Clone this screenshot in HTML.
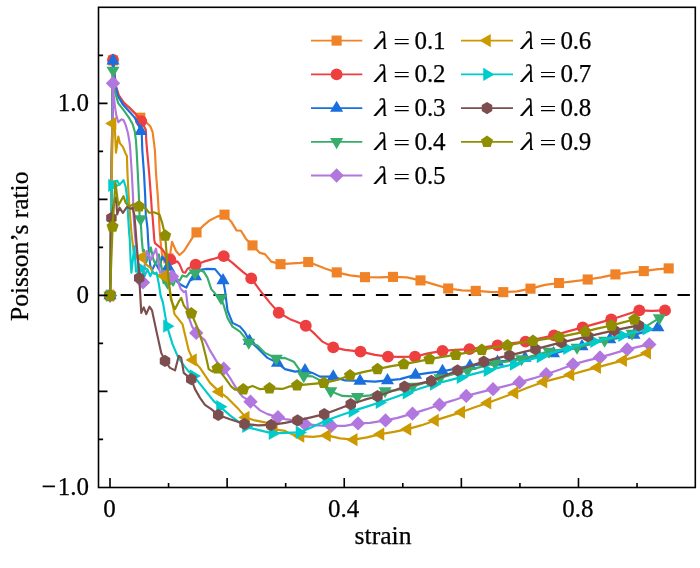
<!DOCTYPE html>
<html lang="en"><head><meta charset="utf-8"><title>Poisson's ratio vs strain</title>
<style>html,body{margin:0;padding:0;background:#fff}svg{display:block}</style></head>
<body>
<svg width="700" height="568" viewBox="0 0 700 568">
<rect width="700" height="568" fill="#fff"/>
<line x1="120.7" y1="295" x2="695.3" y2="295" stroke="#000" stroke-width="2.2" stroke-dasharray="12.4 10.8"/>
<g transform="translate(0 0.4)"><polyline points="110,295.1 113,60 116,88 118.5,96 124,103 130,108 135,113 140.3,117.3 146.9,122.5 150.3,125.9 152.6,131.6 153.8,140.8 154.9,150 156,172.9 157.8,195.8 158.9,214 159.5,227.9 160.6,241.6 162.5,258 165.5,262 168.5,258 170.3,252.9 172,241.4 176,250.6 179.5,254.6 184,250.6 192,238 196.5,232 203,225.5 210,219.8 217,216.2 224.5,214.25 231.25,221.25 236.5,230 241,230.3 246,238.5 252.5,245 260,252.5 265,253.75 271.25,261.25 280.5,263.75 292.5,263 300,262.5 308.25,261.6 317.5,265 325,268 336.75,272 350,275 365,276.75 380,277 393,276.5 407,277 420.5,280 434,284 448.2,288.1 462,290 475.75,290.5 490,291.5 503.25,291.75 517,291 530.5,288.25 545,284.5 559,282.6 573,281 587.7,279.1 601,277 615.4,274 630,272 643.8,270.7 656,269 668.7,268" fill="none" stroke="#F08327" stroke-width="2.15" stroke-linejoin="round" stroke-linecap="round"/>
<rect x="104.95" y="290.05" width="10.1" height="10.1" fill="#F08327"/>
<rect x="107.95" y="54.95" width="10.1" height="10.1" fill="#F08327"/>
<rect x="135.25" y="112.25" width="10.1" height="10.1" fill="#F08327"/>
<rect x="163.45" y="252.95" width="10.1" height="10.1" fill="#F08327"/>
<rect x="191.45" y="226.95" width="10.1" height="10.1" fill="#F08327"/>
<rect x="219.45" y="209.2" width="10.1" height="10.1" fill="#F08327"/>
<rect x="247.45" y="239.95" width="10.1" height="10.1" fill="#F08327"/>
<rect x="275.45" y="258.7" width="10.1" height="10.1" fill="#F08327"/>
<rect x="303.2" y="256.55" width="10.1" height="10.1" fill="#F08327"/>
<rect x="331.7" y="266.95" width="10.1" height="10.1" fill="#F08327"/>
<rect x="359.95" y="271.7" width="10.1" height="10.1" fill="#F08327"/>
<rect x="387.95" y="271.45" width="10.1" height="10.1" fill="#F08327"/>
<rect x="415.45" y="274.95" width="10.1" height="10.1" fill="#F08327"/>
<rect x="443.15" y="283.05" width="10.1" height="10.1" fill="#F08327"/>
<rect x="470.7" y="285.45" width="10.1" height="10.1" fill="#F08327"/>
<rect x="498.2" y="286.7" width="10.1" height="10.1" fill="#F08327"/>
<rect x="525.45" y="283.2" width="10.1" height="10.1" fill="#F08327"/>
<rect x="553.95" y="277.55" width="10.1" height="10.1" fill="#F08327"/>
<rect x="582.65" y="274.05" width="10.1" height="10.1" fill="#F08327"/>
<rect x="610.35" y="268.95" width="10.1" height="10.1" fill="#F08327"/>
<rect x="638.75" y="265.65" width="10.1" height="10.1" fill="#F08327"/>
<rect x="663.65" y="262.95" width="10.1" height="10.1" fill="#F08327"/>
</g>
<g transform="translate(0 0.4)"><polyline points="110,295.1 113,59.5 116,86 118.9,95 124,102.4 129.7,107.6 135.5,113.3 141.2,120.7 145.8,129.3 146.3,140.8 147.1,150 149.2,172.9 150.9,195.8 152,211.8 152.6,216.4 154.3,239.3 154.9,242.7 162.3,248.9 165.8,254 170.3,259.2 174.3,262.6 177.2,260.9 179.5,263.7 182.9,271.8 185.2,272.3 187.5,268.3 190.9,266.6 195.6,264.4 203.75,261.25 212.5,258.75 218,257 223.75,255.75 232.5,262.5 242.5,271.25 251.25,278 260,290 270,302.5 278.75,312.3 290,318.75 296,321 305.75,325.3 315,333.75 322.5,341.25 333.25,347 345,349.5 360.5,351.25 375,354.5 388,356.25 400,356.5 415,356.25 428,353 442.5,350.5 456,349.5 469.5,348.75 483,347 497.5,345 511,343 525.5,341.25 540,338 554,335 568,331 582.7,327 597,323 611.2,319 625,314.5 639.3,310 652,310.5 665,310" fill="none" stroke="#EE3F40" stroke-width="2.15" stroke-linejoin="round" stroke-linecap="round"/>
<circle cx="110" cy="295.1" r="5.95" fill="#EE3F40"/>
<circle cx="113" cy="59.5" r="5.95" fill="#EE3F40"/>
<circle cx="141.2" cy="120.7" r="5.95" fill="#EE3F40"/>
<circle cx="170.3" cy="259.2" r="5.95" fill="#EE3F40"/>
<circle cx="195.6" cy="264.4" r="5.95" fill="#EE3F40"/>
<circle cx="223.75" cy="255.75" r="5.95" fill="#EE3F40"/>
<circle cx="251.25" cy="278" r="5.95" fill="#EE3F40"/>
<circle cx="278.75" cy="312.3" r="5.95" fill="#EE3F40"/>
<circle cx="305.75" cy="325.3" r="5.95" fill="#EE3F40"/>
<circle cx="333.25" cy="347" r="5.95" fill="#EE3F40"/>
<circle cx="360.5" cy="351.25" r="5.95" fill="#EE3F40"/>
<circle cx="388" cy="356.25" r="5.95" fill="#EE3F40"/>
<circle cx="415" cy="356.25" r="5.95" fill="#EE3F40"/>
<circle cx="442.5" cy="350.5" r="5.95" fill="#EE3F40"/>
<circle cx="469.5" cy="348.75" r="5.95" fill="#EE3F40"/>
<circle cx="497.5" cy="345" r="5.95" fill="#EE3F40"/>
<circle cx="525.5" cy="341.25" r="5.95" fill="#EE3F40"/>
<circle cx="554" cy="335" r="5.95" fill="#EE3F40"/>
<circle cx="582.7" cy="327" r="5.95" fill="#EE3F40"/>
<circle cx="611.2" cy="319" r="5.95" fill="#EE3F40"/>
<circle cx="639.3" cy="310" r="5.95" fill="#EE3F40"/>
<circle cx="665" cy="310" r="5.95" fill="#EE3F40"/>
</g>
<g transform="translate(0 0.4)"><polyline points="110,295.1 113,60.3 115.5,86 117.7,95 122.9,104.2 129.7,111.6 134.3,116.7 138,123 140.8,130.9 141.8,134.5 142.3,150 144,172.9 145.2,195.8 145.8,214 147.5,227.9 148,238 149.2,255.2 150.3,265.5 152,270 155.5,262.6 158.9,268.9 162.3,256.3 165.8,260.9 168,266.6 173.8,271.2 177.2,281.5 181.8,284.9 186.4,287.2 189.8,280.3 194.4,278 195.5,276 200,269.5 207,268.5 215,268.75 221.25,276.25 223,280 225,290 227.5,310 232.5,322.5 240,326.25 245,332 249.5,340.5 257.5,347.5 267.5,357.5 277.5,362.5 285,368.75 295,371.25 305,370 312.5,372.5 320,376.25 333.25,376.25 345,380 360,380.5 375,381.25 387.5,380 400,378.75 415.5,374.5 429,372.5 442.5,370.8 456,368.2 470,365.5 484,363.5 497.5,361.5 511,359.5 525,357.5 539,355.3 553.5,353 568,349.5 582,346 596,342 609.8,339 622,337 634,334.5 646,331 657.9,327" fill="none" stroke="#1A6FDF" stroke-width="2.15" stroke-linejoin="round" stroke-linecap="round"/>
<polygon points="110,287.63 116.55,298.83 103.45,298.83" fill="#1A6FDF"/>
<polygon points="113,52.83 119.55,64.03 106.45,64.03" fill="#1A6FDF"/>
<polygon points="140.8,123.43 147.35,134.63 134.25,134.63" fill="#1A6FDF"/>
<polygon points="168,259.13 174.55,270.33 161.45,270.33" fill="#1A6FDF"/>
<polygon points="195.5,268.53 202.05,279.73 188.95,279.73" fill="#1A6FDF"/>
<polygon points="223,272.53 229.55,283.73 216.45,283.73" fill="#1A6FDF"/>
<polygon points="249.5,333.03 256.05,344.23 242.95,344.23" fill="#1A6FDF"/>
<polygon points="277.5,355.03 284.05,366.23 270.95,366.23" fill="#1A6FDF"/>
<polygon points="305,362.53 311.55,373.73 298.45,373.73" fill="#1A6FDF"/>
<polygon points="333.25,368.78 339.8,379.98 326.7,379.98" fill="#1A6FDF"/>
<polygon points="360,373.03 366.55,384.23 353.45,384.23" fill="#1A6FDF"/>
<polygon points="387.5,372.53 394.05,383.73 380.95,383.73" fill="#1A6FDF"/>
<polygon points="415.5,367.03 422.05,378.23 408.95,378.23" fill="#1A6FDF"/>
<polygon points="442.5,363.33 449.05,374.53 435.95,374.53" fill="#1A6FDF"/>
<polygon points="470,358.03 476.55,369.23 463.45,369.23" fill="#1A6FDF"/>
<polygon points="497.5,354.03 504.05,365.23 490.95,365.23" fill="#1A6FDF"/>
<polygon points="525,350.03 531.55,361.23 518.45,361.23" fill="#1A6FDF"/>
<polygon points="553.5,345.53 560.05,356.73 546.95,356.73" fill="#1A6FDF"/>
<polygon points="582,338.53 588.55,349.73 575.45,349.73" fill="#1A6FDF"/>
<polygon points="609.8,331.53 616.35,342.73 603.25,342.73" fill="#1A6FDF"/>
<polygon points="634,327.03 640.55,338.23 627.45,338.23" fill="#1A6FDF"/>
<polygon points="657.9,319.53 664.45,330.73 651.35,330.73" fill="#1A6FDF"/>
</g>
<g transform="translate(0 0.4)"><polyline points="110,295.1 113,70 114.5,90 116,95 118.3,103 122.9,108.7 128.6,116.7 132.6,123.6 134.9,131.6 136,140.8 136.6,150 137.8,172.9 138.9,195.8 139.5,214 140.6,218.7 141.8,239.3 142.9,250.8 144,249.4 146.3,262 150.9,247.2 153.2,258.6 155.5,264.3 158.9,254 161.8,267.7 163.5,282.6 165.8,281.5 168,286 170.9,282 173.2,284.9 176,278 179.5,280.3 182.4,275.2 186.4,276.3 189.8,272.3 195,272.5 200,270 203.75,271.25 207.5,277.5 211.25,288.75 216.25,294.5 221,297.5 223.75,305 227.5,317.5 232.5,326.25 240,331.25 248.75,342 257.5,345 265,352.5 276.25,358 285,357.5 293.75,361.25 303.75,375.5 312.5,376 322.5,381.25 330.75,390.5 335,392.5 342.5,395.5 357.5,396.25 370,395 385,390.5 395,390 412.5,386 426,382 440,377.5 454,373.5 467.5,370 481,366.5 495,363 508,361 521.5,358.5 535,355 549,351 563,349 577,347 591,343.5 604.6,340 618,336.5 632,333 646,326 659.3,317.7" fill="none" stroke="#37AD6B" stroke-width="2.15" stroke-linejoin="round" stroke-linecap="round"/>
<polygon points="110,302.57 116.55,291.37 103.45,291.37" fill="#37AD6B"/>
<polygon points="113,77.47 119.55,66.27 106.45,66.27" fill="#37AD6B"/>
<polygon points="140.6,226.17 147.15,214.97 134.05,214.97" fill="#37AD6B"/>
<polygon points="167.5,289.47 174.05,278.27 160.95,278.27" fill="#37AD6B"/>
<polygon points="195,279.97 201.55,268.77 188.45,268.77" fill="#37AD6B"/>
<polygon points="221,304.97 227.55,293.77 214.45,293.77" fill="#37AD6B"/>
<polygon points="248.75,349.47 255.3,338.27 242.2,338.27" fill="#37AD6B"/>
<polygon points="276.25,365.47 282.8,354.27 269.7,354.27" fill="#37AD6B"/>
<polygon points="303.75,382.97 310.3,371.77 297.2,371.77" fill="#37AD6B"/>
<polygon points="330.75,397.97 337.3,386.77 324.2,386.77" fill="#37AD6B"/>
<polygon points="357.5,403.72 364.05,392.52 350.95,392.52" fill="#37AD6B"/>
<polygon points="385,397.97 391.55,386.77 378.45,386.77" fill="#37AD6B"/>
<polygon points="412.5,393.47 419.05,382.27 405.95,382.27" fill="#37AD6B"/>
<polygon points="440,384.97 446.55,373.77 433.45,373.77" fill="#37AD6B"/>
<polygon points="467.5,377.47 474.05,366.27 460.95,366.27" fill="#37AD6B"/>
<polygon points="495,370.47 501.55,359.27 488.45,359.27" fill="#37AD6B"/>
<polygon points="521.5,365.97 528.05,354.77 514.95,354.77" fill="#37AD6B"/>
<polygon points="549,358.47 555.55,347.27 542.45,347.27" fill="#37AD6B"/>
<polygon points="577,354.47 583.55,343.27 570.45,343.27" fill="#37AD6B"/>
<polygon points="604.6,347.47 611.15,336.27 598.05,336.27" fill="#37AD6B"/>
<polygon points="632,340.47 638.55,329.27 625.45,329.27" fill="#37AD6B"/>
<polygon points="659.3,325.17 665.85,313.97 652.75,313.97" fill="#37AD6B"/>
</g>
<g transform="translate(0 0.4)"><polyline points="110,295.1 113,82.8 113.8,95 115,106.4 116.2,114.5 118.3,121.9 121.2,119 123.5,119.6 125.7,124.7 128,132.8 129.7,143 130.3,150 131.8,172.9 133,195.8 133.5,214 135,235 137,255 139.5,272 143,282 145,262 146.9,250.6 150.9,259.7 156,248.3 160,272.3 165,271 172,276 177.2,279.2 180.6,288.3 184,291.8 185.8,290.6 187,300 189,317.5 192,326 196.25,332.5 205,340 210,350 217.5,362.5 223.75,368.25 230,377.5 237.5,390 242.5,396.25 250.5,401.25 260,410 267.5,413.75 278,416.75 285,418.75 295,420 305,423.75 317.5,425 331.25,425.5 345,425.5 358,423 370,422.5 385.5,420 397.5,417.5 412.5,413.25 426,409 439.5,404.25 453,400 466.25,395.5 480,392 493,388.75 506,385.5 519.5,382 533,378 546.25,373.75 560,369 573,364 586,360.5 600,357 614,353 627.2,349 638,346.5 649.3,344" fill="none" stroke="#B177DE" stroke-width="2.15" stroke-linejoin="round" stroke-linecap="round"/>
<polygon points="117.2,295.1 110,302.3 102.8,295.1 110,287.9" fill="#B177DE"/>
<polygon points="120.2,82.8 113,90 105.8,82.8 113,75.6" fill="#B177DE"/>
<polygon points="150.2,282 143,289.2 135.8,282 143,274.8" fill="#B177DE"/>
<polygon points="179.2,276 172,283.2 164.8,276 172,268.8" fill="#B177DE"/>
<polygon points="203.45,332.5 196.25,339.7 189.05,332.5 196.25,325.3" fill="#B177DE"/>
<polygon points="230.95,368.25 223.75,375.45 216.55,368.25 223.75,361.05" fill="#B177DE"/>
<polygon points="257.7,401.25 250.5,408.45 243.3,401.25 250.5,394.05" fill="#B177DE"/>
<polygon points="285.2,416.75 278,423.95 270.8,416.75 278,409.55" fill="#B177DE"/>
<polygon points="312.2,423.75 305,430.95 297.8,423.75 305,416.55" fill="#B177DE"/>
<polygon points="338.45,425.5 331.25,432.7 324.05,425.5 331.25,418.3" fill="#B177DE"/>
<polygon points="365.2,423 358,430.2 350.8,423 358,415.8" fill="#B177DE"/>
<polygon points="392.7,420 385.5,427.2 378.3,420 385.5,412.8" fill="#B177DE"/>
<polygon points="419.7,413.25 412.5,420.45 405.3,413.25 412.5,406.05" fill="#B177DE"/>
<polygon points="446.7,404.25 439.5,411.45 432.3,404.25 439.5,397.05" fill="#B177DE"/>
<polygon points="473.45,395.5 466.25,402.7 459.05,395.5 466.25,388.3" fill="#B177DE"/>
<polygon points="500.2,388.75 493,395.95 485.8,388.75 493,381.55" fill="#B177DE"/>
<polygon points="526.7,382 519.5,389.2 512.3,382 519.5,374.8" fill="#B177DE"/>
<polygon points="553.45,373.75 546.25,380.95 539.05,373.75 546.25,366.55" fill="#B177DE"/>
<polygon points="580.2,364 573,371.2 565.8,364 573,356.8" fill="#B177DE"/>
<polygon points="607.2,357 600,364.2 592.8,357 600,349.8" fill="#B177DE"/>
<polygon points="634.4,349 627.2,356.2 620,349 627.2,341.8" fill="#B177DE"/>
<polygon points="656.5,344 649.3,351.2 642.1,344 649.3,336.8" fill="#B177DE"/>
</g>
<g transform="translate(0 0.4)"><polyline points="110,295.1 112.6,123 114.9,129.3 116,152.2 118.3,136.2 120,143 122.9,146.5 125.7,153.4 126.9,155.7 127.5,172.9 128.6,195.8 130,214 131.5,233.6 133.5,250 136,256.5 141.7,256.9 146.3,264.3 150.9,267.7 153.2,272.3 158,274.5 164,275.8 168,281.5 170,290 171.25,297.5 174.5,313.75 182.5,323.75 188.75,350 193,359.5 200,367.5 210,382.5 219.25,391.25 227.5,397.5 237.5,407.5 245.75,417 255,420 265,422 273.9,428.8 285,430.5 292,434 300.5,435.75 313,436.5 327,435 340,438 353.75,439.25 367,437 380.5,433.75 394,431.5 407.5,428.75 421,425 435,420 448,416 461.25,411.75 474,407 487.5,402.5 501,397.5 514.5,392.5 528,387 543.5,381.5 557,378 570.5,374.3 584,370.5 597.2,367 610,363.5 623.2,360 635,356.5 647.3,352.6" fill="none" stroke="#CC9900" stroke-width="2.15" stroke-linejoin="round" stroke-linecap="round"/>
<polygon points="102.53,295.1 113.73,288.55 113.73,301.65" fill="#CC9900"/>
<polygon points="105.13,123 116.33,116.45 116.33,129.55" fill="#CC9900"/>
<polygon points="134.23,256.9 145.43,250.35 145.43,263.45" fill="#CC9900"/>
<polygon points="156.53,275.8 167.73,269.25 167.73,282.35" fill="#CC9900"/>
<polygon points="185.53,359.5 196.73,352.95 196.73,366.05" fill="#CC9900"/>
<polygon points="211.78,391.25 222.98,384.7 222.98,397.8" fill="#CC9900"/>
<polygon points="238.28,417 249.48,410.45 249.48,423.55" fill="#CC9900"/>
<polygon points="266.43,428.8 277.63,422.25 277.63,435.35" fill="#CC9900"/>
<polygon points="293.03,435.75 304.23,429.2 304.23,442.3" fill="#CC9900"/>
<polygon points="319.53,435 330.73,428.45 330.73,441.55" fill="#CC9900"/>
<polygon points="346.28,439.25 357.48,432.7 357.48,445.8" fill="#CC9900"/>
<polygon points="373.03,433.75 384.23,427.2 384.23,440.3" fill="#CC9900"/>
<polygon points="400.03,428.75 411.23,422.2 411.23,435.3" fill="#CC9900"/>
<polygon points="427.53,420 438.73,413.45 438.73,426.55" fill="#CC9900"/>
<polygon points="453.78,411.75 464.98,405.2 464.98,418.3" fill="#CC9900"/>
<polygon points="480.03,402.5 491.23,395.95 491.23,409.05" fill="#CC9900"/>
<polygon points="507.03,392.5 518.23,385.95 518.23,399.05" fill="#CC9900"/>
<polygon points="536.03,381.5 547.23,374.95 547.23,388.05" fill="#CC9900"/>
<polygon points="563.03,374.3 574.23,367.75 574.23,380.85" fill="#CC9900"/>
<polygon points="589.73,367 600.93,360.45 600.93,373.55" fill="#CC9900"/>
<polygon points="615.73,360 626.93,353.45 626.93,366.55" fill="#CC9900"/>
<polygon points="639.83,352.6 651.03,346.05 651.03,359.15" fill="#CC9900"/>
</g>
<g transform="translate(0 0.4)"><polyline points="110,295.1 112,185 113.7,180.9 117.2,180.3 119.5,184.3 123.5,179.7 125.7,186.6 126.9,195.8 128,214 129.2,233.6 129.7,238 130.7,262.2 131.4,272.3 134.3,246 136,271.2 138.5,270 141.2,265.5 142.9,272.3 144.6,275.8 147.5,268.9 150.3,275.8 152.6,271.2 154.3,273.5 156.6,272.3 158.9,283.8 160.6,295.2 162.9,302 167,325.75 172.5,343.75 177.5,355.5 183,364 188.6,371 193.5,375.5 198,381 203,387.3 213.5,400.5 220,406.25 230,415 240,422.5 250,427.5 260,430 272.5,433 285,432.5 299.5,432 310,427.5 326.25,420 340,415 352.5,410.75 366,406.5 379.5,402 393,397.5 406.5,392.5 420,388 433.75,383.75 447,380.5 460.5,377 474,373.5 487.5,370 500,367 513.75,363.75 527,360 540.5,356.25 554,352 567,348 581,344.5 594,341 608,338 622,335 634,332 646.3,328.5" fill="none" stroke="#00CBCC" stroke-width="2.15" stroke-linejoin="round" stroke-linecap="round"/>
<polygon points="117.47,295.1 106.27,288.55 106.27,301.65" fill="#00CBCC"/>
<polygon points="119.47,185 108.27,178.45 108.27,191.55" fill="#00CBCC"/>
<polygon points="147.97,268 136.77,261.45 136.77,274.55" fill="#00CBCC"/>
<polygon points="174.47,325.75 163.27,319.2 163.27,332.3" fill="#00CBCC"/>
<polygon points="200.97,375.5 189.77,368.95 189.77,382.05" fill="#00CBCC"/>
<polygon points="227.47,406.25 216.27,399.7 216.27,412.8" fill="#00CBCC"/>
<polygon points="253.47,426 242.27,419.45 242.27,432.55" fill="#00CBCC"/>
<polygon points="279.97,433 268.77,426.45 268.77,439.55" fill="#00CBCC"/>
<polygon points="306.97,432 295.77,425.45 295.77,438.55" fill="#00CBCC"/>
<polygon points="333.72,420 322.52,413.45 322.52,426.55" fill="#00CBCC"/>
<polygon points="359.97,410.75 348.77,404.2 348.77,417.3" fill="#00CBCC"/>
<polygon points="386.97,402 375.77,395.45 375.77,408.55" fill="#00CBCC"/>
<polygon points="413.97,392.5 402.77,385.95 402.77,399.05" fill="#00CBCC"/>
<polygon points="441.22,383.75 430.02,377.2 430.02,390.3" fill="#00CBCC"/>
<polygon points="467.97,377 456.77,370.45 456.77,383.55" fill="#00CBCC"/>
<polygon points="494.97,370 483.77,363.45 483.77,376.55" fill="#00CBCC"/>
<polygon points="521.22,363.75 510.02,357.2 510.02,370.3" fill="#00CBCC"/>
<polygon points="547.97,356.25 536.77,349.7 536.77,362.8" fill="#00CBCC"/>
<polygon points="574.47,348 563.27,341.45 563.27,354.55" fill="#00CBCC"/>
<polygon points="601.47,341 590.27,334.45 590.27,347.55" fill="#00CBCC"/>
<polygon points="629.47,335 618.27,328.45 618.27,341.55" fill="#00CBCC"/>
<polygon points="653.77,328.5 642.57,321.95 642.57,335.05" fill="#00CBCC"/>
</g>
<g transform="translate(0 0.4)"><polyline points="110,295.1 111.4,217.6 113,208 114.9,198 116,197 117.2,214 119.5,207.2 122.9,212.4 126.9,206.6 130.9,208.4 132.6,207.2 134.3,214 135.5,227.9 137.2,250.8 138.9,269 139.2,277.5 140,290 141.25,312.5 143.75,307 146.25,313.75 149.5,306.25 152,310 156.25,330 161.25,352.5 165,360.5 170,367.5 175,370 178.75,355.5 181.25,357.5 183.75,372.5 191.25,378.75 195,388.75 200,397.5 205,404.5 211.25,408.75 218.25,414.5 230,418.75 244.5,423.5 258,425 271.25,424.5 285,422.5 297.5,420 311,417 324.25,413.75 337,409 350.75,403.75 364,399.5 377.5,395.75 391,391 404.5,386.25 418,383.5 431.25,380.5 444,375.5 457.5,370 470,365.5 483.75,361.25 496,358 509.5,355 522,352 535.5,348.75 548,345.5 561.5,342 575,339 588,336 601,333 614.3,330 626,327.5 638.7,325" fill="none" stroke="#7D4E4E" stroke-width="2.15" stroke-linejoin="round" stroke-linecap="round"/>
<polygon points="110,289.05 115.24,292.08 115.24,298.12 110,301.15 104.76,298.12 104.76,292.08" fill="#7D4E4E"/>
<polygon points="111.4,211.55 116.64,214.57 116.64,220.62 111.4,223.65 106.16,220.62 106.16,214.57" fill="#7D4E4E"/>
<polygon points="139.2,271.45 144.44,274.48 144.44,280.52 139.2,283.55 133.96,280.52 133.96,274.48" fill="#7D4E4E"/>
<polygon points="165,354.45 170.24,357.48 170.24,363.52 165,366.55 159.76,363.52 159.76,357.48" fill="#7D4E4E"/>
<polygon points="191.25,372.7 196.49,375.73 196.49,381.77 191.25,384.8 186.01,381.77 186.01,375.73" fill="#7D4E4E"/>
<polygon points="218.25,408.45 223.49,411.48 223.49,417.52 218.25,420.55 213.01,417.52 213.01,411.48" fill="#7D4E4E"/>
<polygon points="244.5,417.45 249.74,420.48 249.74,426.52 244.5,429.55 239.26,426.52 239.26,420.48" fill="#7D4E4E"/>
<polygon points="271.25,418.45 276.49,421.48 276.49,427.52 271.25,430.55 266.01,427.52 266.01,421.48" fill="#7D4E4E"/>
<polygon points="297.5,413.95 302.74,416.98 302.74,423.02 297.5,426.05 292.26,423.02 292.26,416.98" fill="#7D4E4E"/>
<polygon points="324.25,407.7 329.49,410.73 329.49,416.77 324.25,419.8 319.01,416.77 319.01,410.73" fill="#7D4E4E"/>
<polygon points="350.75,397.7 355.99,400.73 355.99,406.77 350.75,409.8 345.51,406.77 345.51,400.73" fill="#7D4E4E"/>
<polygon points="377.5,389.7 382.74,392.73 382.74,398.77 377.5,401.8 372.26,398.77 372.26,392.73" fill="#7D4E4E"/>
<polygon points="404.5,380.2 409.74,383.23 409.74,389.27 404.5,392.3 399.26,389.27 399.26,383.23" fill="#7D4E4E"/>
<polygon points="431.25,374.45 436.49,377.48 436.49,383.52 431.25,386.55 426.01,383.52 426.01,377.48" fill="#7D4E4E"/>
<polygon points="457.5,363.95 462.74,366.98 462.74,373.02 457.5,376.05 452.26,373.02 452.26,366.98" fill="#7D4E4E"/>
<polygon points="483.75,355.2 488.99,358.23 488.99,364.27 483.75,367.3 478.51,364.27 478.51,358.23" fill="#7D4E4E"/>
<polygon points="509.5,348.95 514.74,351.98 514.74,358.02 509.5,361.05 504.26,358.02 504.26,351.98" fill="#7D4E4E"/>
<polygon points="535.5,342.7 540.74,345.73 540.74,351.77 535.5,354.8 530.26,351.77 530.26,345.73" fill="#7D4E4E"/>
<polygon points="561.5,335.95 566.74,338.98 566.74,345.02 561.5,348.05 556.26,345.02 556.26,338.98" fill="#7D4E4E"/>
<polygon points="588,329.95 593.24,332.98 593.24,339.02 588,342.05 582.76,339.02 582.76,332.98" fill="#7D4E4E"/>
<polygon points="614.3,323.95 619.54,326.98 619.54,333.02 614.3,336.05 609.06,333.02 609.06,326.98" fill="#7D4E4E"/>
<polygon points="638.7,318.95 643.94,321.98 643.94,328.02 638.7,331.05 633.46,328.02 633.46,321.98" fill="#7D4E4E"/>
</g>
<g transform="translate(0 0.4)"><polyline points="110,295.1 112.6,226.2 115.4,182 118.3,205 123.5,195.8 125.7,202.6 129.7,206 133.2,203.8 138.9,206 145.8,207.9 149.2,212.4 153.8,211.9 159.5,214.2 162.4,223.3 165.2,235.3 166.4,250.8 168,272.3 170.3,295.2 171.25,300 175,308.75 178.75,301.25 181.25,297.5 183.75,305 187.5,310 191.25,313 197.5,327.5 202.5,342.5 206.25,357.5 208.75,368.75 212.5,371.25 217.5,368 225,377.5 231.25,386.25 235,389.25 243.25,389 252.5,385.5 260,388.75 269.5,388 282.5,388.5 288.75,386.25 297,385 310,383.75 323.75,382.5 335,380 350,375 364,371.5 377.5,368.75 390,366 403.75,363.75 416,361.5 429.5,358.75 442,356.5 455.75,354.5 468,352 481.75,349.5 494,347 507.5,345 520,342.5 533,340.5 546,338.5 559,336.7 572,334 585.3,331.2 598,328 611.5,325.1 623,322 634.3,319.1" fill="none" stroke="#8E8E00" stroke-width="2.15" stroke-linejoin="round" stroke-linecap="round"/>
<polygon points="110,288.75 116.04,293.14 113.73,300.24 106.27,300.24 103.96,293.14" fill="#8E8E00"/>
<polygon points="112.6,219.85 118.64,224.24 116.33,231.34 108.87,231.34 106.56,224.24" fill="#8E8E00"/>
<polygon points="138.9,199.65 144.94,204.04 142.63,211.14 135.17,211.14 132.86,204.04" fill="#8E8E00"/>
<polygon points="165.2,228.95 171.24,233.34 168.93,240.44 161.47,240.44 159.16,233.34" fill="#8E8E00"/>
<polygon points="191.25,306.65 197.29,311.04 194.98,318.14 187.52,318.14 185.21,311.04" fill="#8E8E00"/>
<polygon points="217.5,361.65 223.54,366.04 221.23,373.14 213.77,373.14 211.46,366.04" fill="#8E8E00"/>
<polygon points="243.25,382.65 249.29,387.04 246.98,394.14 239.52,394.14 237.21,387.04" fill="#8E8E00"/>
<polygon points="269.5,381.65 275.54,386.04 273.23,393.14 265.77,393.14 263.46,386.04" fill="#8E8E00"/>
<polygon points="297,378.65 303.04,383.04 300.73,390.14 293.27,390.14 290.96,383.04" fill="#8E8E00"/>
<polygon points="323.75,376.15 329.79,380.54 327.48,387.64 320.02,387.64 317.71,380.54" fill="#8E8E00"/>
<polygon points="350,368.65 356.04,373.04 353.73,380.14 346.27,380.14 343.96,373.04" fill="#8E8E00"/>
<polygon points="377.5,362.4 383.54,366.79 381.23,373.89 373.77,373.89 371.46,366.79" fill="#8E8E00"/>
<polygon points="403.75,357.4 409.79,361.79 407.48,368.89 400.02,368.89 397.71,361.79" fill="#8E8E00"/>
<polygon points="429.5,352.4 435.54,356.79 433.23,363.89 425.77,363.89 423.46,356.79" fill="#8E8E00"/>
<polygon points="455.75,348.15 461.79,352.54 459.48,359.64 452.02,359.64 449.71,352.54" fill="#8E8E00"/>
<polygon points="481.75,343.15 487.79,347.54 485.48,354.64 478.02,354.64 475.71,347.54" fill="#8E8E00"/>
<polygon points="507.5,338.65 513.54,343.04 511.23,350.14 503.77,350.14 501.46,343.04" fill="#8E8E00"/>
<polygon points="533,334.15 539.04,338.54 536.73,345.64 529.27,345.64 526.96,338.54" fill="#8E8E00"/>
<polygon points="559,330.35 565.04,334.74 562.73,341.84 555.27,341.84 552.96,334.74" fill="#8E8E00"/>
<polygon points="585.3,324.85 591.34,329.24 589.03,336.34 581.57,336.34 579.26,329.24" fill="#8E8E00"/>
<polygon points="611.5,318.75 617.54,323.14 615.23,330.24 607.77,330.24 605.46,323.14" fill="#8E8E00"/>
<polygon points="634.3,312.75 640.34,317.14 638.03,324.24 630.57,324.24 628.26,317.14" fill="#8E8E00"/>
</g>
<rect x="98.5" y="7.3" width="596.8" height="480.2" fill="none" stroke="#000" stroke-width="1.6"/>
<path d="M110 487.5v-9.4M168.56 487.5v-4.6M227.12 487.5v-9.4M285.68 487.5v-4.6M344.24 487.5v-9.4M402.8 487.5v-4.6M461.36 487.5v-9.4M519.92 487.5v-4.6M578.48 487.5v-9.4M637.04 487.5v-4.6M98.5 439.4h4.6M98.5 391.4h9M98.5 343.4h4.6M98.5 295.4h9M98.5 247.4h4.6M98.5 199.4h9M98.5 151.4h4.6M98.5 103.4h9M98.5 55.4h4.6" stroke="#000" stroke-width="1.6" fill="none"/>
<g font-family="'Liberation Serif', serif" font-size="25" fill="#000" stroke="#000" stroke-width="0.25">
<text x="41.8" y="495.3" font-size="26">−</text>
<text x="89" y="111.3" text-anchor="end">1.0</text>
<text x="89" y="303.3" text-anchor="end">0</text>
<text x="89" y="495.3" text-anchor="end">1.0</text>
<text x="109.5" y="517" text-anchor="middle">0</text>
<text x="343.74" y="517" text-anchor="middle">0.4</text>
<text x="577.98" y="517" text-anchor="middle">0.8</text>
<text x="383" y="543.6" text-anchor="middle" font-size="25.6">strain</text>
<text transform="translate(28.3 246.3) rotate(-90)" text-anchor="middle" font-size="25.6" textLength="149.5" lengthAdjust="spacing">Poisson’s ratio</text>
<line x1="311" y1="40.6" x2="362.3" y2="40.6" stroke="#F08327" stroke-width="1.8"/>
<rect x="331.55" y="35.55" width="10.1" height="10.1" stroke="none" fill="#F08327"/>
<text transform="translate(374.2 48.6) skewX(-9) scale(1.14 0.95)" font-style="italic" font-size="26.5" stroke-width="0.15">λ</text>
<text transform="translate(393.2 48.6) scale(1.2 0.84)" stroke="none">=</text>
<text x="414.6" y="48.6" letter-spacing="-0.2">0.1</text>
<line x1="311" y1="74.4" x2="362.3" y2="74.4" stroke="#EE3F40" stroke-width="1.8"/>
<circle cx="336.6" cy="74.4" r="5.95" stroke="none" fill="#EE3F40"/>
<text transform="translate(374.2 82.4) skewX(-9) scale(1.14 0.95)" font-style="italic" font-size="26.5" stroke-width="0.15">λ</text>
<text transform="translate(393.2 82.4) scale(1.2 0.84)" stroke="none">=</text>
<text x="414.6" y="82.4" letter-spacing="-0.2">0.2</text>
<line x1="311" y1="108.1" x2="362.3" y2="108.1" stroke="#1A6FDF" stroke-width="1.8"/>
<polygon points="336.6,100.63 343.15,111.83 330.05,111.83" stroke="none" fill="#1A6FDF"/>
<text transform="translate(374.2 116.1) skewX(-9) scale(1.14 0.95)" font-style="italic" font-size="26.5" stroke-width="0.15">λ</text>
<text transform="translate(393.2 116.1) scale(1.2 0.84)" stroke="none">=</text>
<text x="414.6" y="116.1" letter-spacing="-0.2">0.3</text>
<line x1="311" y1="141.8" x2="362.3" y2="141.8" stroke="#37AD6B" stroke-width="1.8"/>
<polygon points="336.6,149.27 343.15,138.07 330.05,138.07" stroke="none" fill="#37AD6B"/>
<text transform="translate(374.2 149.8) skewX(-9) scale(1.14 0.95)" font-style="italic" font-size="26.5" stroke-width="0.15">λ</text>
<text transform="translate(393.2 149.8) scale(1.2 0.84)" stroke="none">=</text>
<text x="414.6" y="149.8" letter-spacing="-0.2">0.4</text>
<line x1="311" y1="175.5" x2="362.3" y2="175.5" stroke="#B177DE" stroke-width="1.8"/>
<polygon points="343.8,175.5 336.6,182.7 329.4,175.5 336.6,168.3" stroke="none" fill="#B177DE"/>
<text transform="translate(374.2 183.5) skewX(-9) scale(1.14 0.95)" font-style="italic" font-size="26.5" stroke-width="0.15">λ</text>
<text transform="translate(393.2 183.5) scale(1.2 0.84)" stroke="none">=</text>
<text x="414.6" y="183.5" letter-spacing="-0.2">0.5</text>
<line x1="461" y1="40.6" x2="513" y2="40.6" stroke="#CC9900" stroke-width="1.8"/>
<polygon points="479.53,40.6 490.73,34.05 490.73,47.15" stroke="none" fill="#CC9900"/>
<text transform="translate(520.8 48.6) skewX(-9) scale(1.14 0.95)" font-style="italic" font-size="26.5" stroke-width="0.15">λ</text>
<text transform="translate(539.6 48.6) scale(1.2 0.84)" stroke="none">=</text>
<text x="560.5" y="48.6" letter-spacing="-0.2">0.6</text>
<line x1="461" y1="74.4" x2="513" y2="74.4" stroke="#00CBCC" stroke-width="1.8"/>
<polygon points="494.47,74.4 483.27,67.85 483.27,80.95" stroke="none" fill="#00CBCC"/>
<text transform="translate(520.8 82.4) skewX(-9) scale(1.14 0.95)" font-style="italic" font-size="26.5" stroke-width="0.15">λ</text>
<text transform="translate(539.6 82.4) scale(1.2 0.84)" stroke="none">=</text>
<text x="560.5" y="82.4" letter-spacing="-0.2">0.7</text>
<line x1="461" y1="108.1" x2="513" y2="108.1" stroke="#7D4E4E" stroke-width="1.8"/>
<polygon points="487,102.05 492.24,105.07 492.24,111.12 487,114.15 481.76,111.12 481.76,105.07" stroke="none" fill="#7D4E4E"/>
<text transform="translate(520.8 116.1) skewX(-9) scale(1.14 0.95)" font-style="italic" font-size="26.5" stroke-width="0.15">λ</text>
<text transform="translate(539.6 116.1) scale(1.2 0.84)" stroke="none">=</text>
<text x="560.5" y="116.1" letter-spacing="-0.2">0.8</text>
<line x1="461" y1="141.8" x2="513" y2="141.8" stroke="#8E8E00" stroke-width="1.8"/>
<polygon points="487,135.45 493.04,139.84 490.73,146.94 483.27,146.94 480.96,139.84" stroke="none" fill="#8E8E00"/>
<text transform="translate(520.8 149.8) skewX(-9) scale(1.14 0.95)" font-style="italic" font-size="26.5" stroke-width="0.15">λ</text>
<text transform="translate(539.6 149.8) scale(1.2 0.84)" stroke="none">=</text>
<text x="560.5" y="149.8" letter-spacing="-0.2">0.9</text>
</g>
</svg>
</body></html>
